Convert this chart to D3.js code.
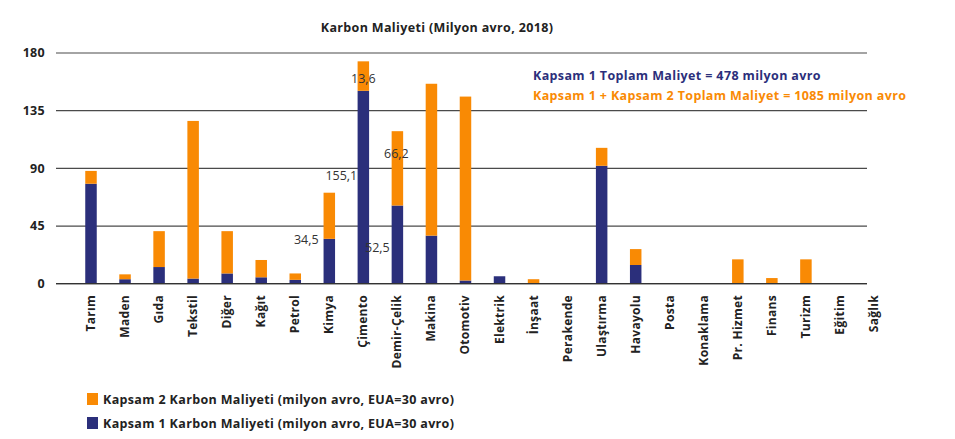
<!DOCTYPE html>
<html>
<head>
<meta charset="utf-8">
<script src="https://cdn.jsdelivr.net/npm/d3@7"></script>
<style>
  body { margin: 0; background: #fff; }
  svg { display: block; font-family: "Open Sans", sans-serif; }
</style>
</head>
<body>
<div id="chart"></div>
<script>
const categories = ["Tarım","Maden","Gıda","Tekstil","Diğer","Kağıt","Petrol","Kimya","Çimento","Demir-Çelik","Makina","Otomotiv","Elektrik","İnşaat","Perakende","Ulaştırma","Havayolu","Posta","Konaklama","Pr. Hizmet","Finans","Turizm","Eğitim","Sağlık"];
const kapsam1 = [78, 3.5, 13, 4, 8, 5, 3, 35, 150.5, 61, 37.5, 2.5, 5.8, 0, 0, 92, 14.6, 0, 0, 0, 0, 0, 0, 0];
const kapsam2 = [10, 3.8, 28, 123, 33, 13.5, 5, 36, 23, 58, 118.5, 143.5, 0, 3.5, 0, 14, 12.4, 0, 0, 19, 4.4, 19, 0, 0];
const yTicks = [0, 45, 90, 135, 180];
const dataLabels = [
  {cat: "Kimya", text: "34,5", value: 34.5, dx: -23},
  {cat: "Çimento", text: "155,1", value: 84, dx: -22},
  {cat: "Çimento", text: "13,6", value: 160, dx: 0},
  {cat: "Demir-Çelik", text: "52,5", value: 28.5, dx: -20},
  {cat: "Demir-Çelik", text: "66,2", value: 101.5, dx: -1}
];
const title = "Karbon Maliyeti (Milyon avro, 2018)";
const note1 = "Kapsam 1 Toplam Maliyet = 478 milyon avro";
const note2 = "Kapsam 1 + Kapsam 2 Toplam Maliyet = 1085 milyon avro";
const legendItems = [
  {label: "Kapsam 2 Karbon Maliyeti (milyon avro, EUA=30 avro)", color: "#F98A04"},
  {label: "Kapsam 1 Karbon Maliyeti (milyon avro, EUA=30 avro)", color: "#2B2F7B"}
];

const W = 955, H = 439;
const blue = "#2B2F7B", orange = "#F98A04";
const svg = d3.select("#chart").append("svg").attr("width", W).attr("height", H);

const x = d3.scalePoint().domain(categories).range([91, 874]);
const y = d3.scaleLinear().domain([0, 180]).range([283.7, 53]);
const barW = 11.5;

// gridlines
svg.append("g").selectAll("line").data(yTicks).join("line")
  .attr("x1", 56).attr("x2", 867)
  .attr("y1", d => y(d)).attr("y2", d => y(d))
  .attr("stroke", "#4a4a4a").attr("stroke-width", 1.2);

// y labels
svg.append("g").selectAll("text").data(yTicks).join("text")
  .attr("x", 45).attr("y", d => y(d)).attr("dy", "0.35em")
  .attr("text-anchor", "end").attr("font-weight", 700).attr("font-size", 12.5)
  .attr("letter-spacing", 0.3).attr("fill", "#222").text(d => d);

const rows = categories.map((c, i) => ({c, k1: kapsam1[i], k2: kapsam2[i]}));
const bars = svg.append("g");
bars.selectAll("rect.k1").data(rows.filter(d => d.k1 > 0)).join("rect")
  .attr("class", "k1")
  .attr("x", d => x(d.c) - barW / 2).attr("width", barW)
  .attr("y", d => y(d.k1)).attr("height", d => y(0) - y(d.k1))
  .attr("fill", blue);
bars.selectAll("rect.k2").data(rows.filter(d => d.k2 > 0)).join("rect")
  .attr("class", "k2")
  .attr("x", d => x(d.c) - barW / 2).attr("width", barW)
  .attr("y", d => y(d.k1 + d.k2)).attr("height", d => y(d.k1) - y(d.k1 + d.k2))
  .attr("fill", orange);

// baseline
svg.append("line").attr("x1", 56).attr("x2", 867).attr("y1", y(0)).attr("y2", y(0))
  .attr("stroke", "#333").attr("stroke-width", 1.3);

// data labels
svg.append("g").selectAll("text").data(dataLabels).join("text")
  .attr("x", d => x(d.cat) + d.dx).attr("y", d => y(d.value)).attr("dy", "0.35em")
  .attr("text-anchor", "middle").attr("font-size", 12.5).attr("fill", "#333")
  .text(d => d.text);

// x labels
svg.append("g").selectAll("text").data(categories).join("text")
  .attr("transform", d => `translate(${x(d) + 4},295) rotate(-90)`)
  .attr("text-anchor", "end").attr("font-weight", 700).attr("font-size", 12)
  .attr("letter-spacing", 0.3).attr("fill", "#222").text(d => d);

// title
svg.append("text").attr("x", 437).attr("y", 32).attr("text-anchor", "middle")
  .attr("font-weight", 700).attr("font-size", 12.5).attr("letter-spacing", 0.35)
  .attr("fill", "#222").text(title);

// notes
svg.append("text").attr("x", 533).attr("y", 80).attr("font-weight", 700)
  .attr("font-size", 12.5).attr("letter-spacing", 0.37).attr("fill", blue).text(note1);
svg.append("text").attr("x", 533).attr("y", 100).attr("font-weight", 700)
  .attr("font-size", 12.5).attr("letter-spacing", 0.37).attr("fill", orange).text(note2);

// legend
const lg = svg.append("g").selectAll("g").data(legendItems).join("g")
  .attr("transform", (d, i) => `translate(87,${393 + i * 24})`);
lg.append("rect").attr("width", 11).attr("height", 12).attr("fill", d => d.color);
lg.append("text").attr("x", 16).attr("y", 10.5).attr("font-weight", 700)
  .attr("font-size", 12.5).attr("letter-spacing", 0.35).attr("fill", "#222").text(d => d.label);
</script>
</body>
</html>
